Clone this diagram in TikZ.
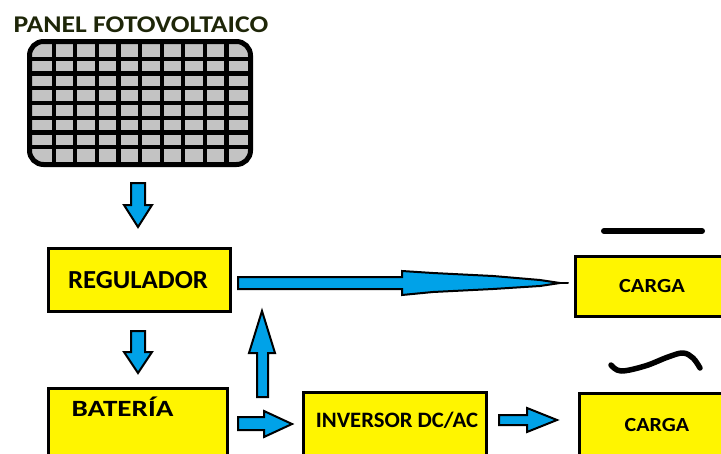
\documentclass[tikz,border=0pt]{standalone}
\usepackage{fontspec}
\setmainfont{Carlito}
\definecolor{arrowblue}{HTML}{00A2E8}
\definecolor{boxyellow}{HTML}{FFF500}
\definecolor{cellgray}{HTML}{C3C3C3}
\definecolor{titlecol}{HTML}{1E2608}
\tikzset{
  box/.style={draw=black, line width=3pt, fill=boxyellow, inner sep=0pt},
  lbl/.style={inner sep=0pt, font=\bfseries},
  barrow/.style={draw=black, line width=2pt, fill=arrowblue, line join=miter},
}
\begin{document}
\begin{tikzpicture}[x=1pt,y=-1pt]
\useasboundingbox (0,0) rectangle (721,453);
\clip (0,0) rectangle (721,453);

% title
\node[lbl, text=titlecol, font=\bfseries\fontsize{24}{28}\selectfont] (title) at (141,24.5) {\scalebox{1.155}[1]{PANEL FOTOVOLTAICO}};

% solar panel
\begin{scope}
  \path[clip, rounded corners=14pt] (29.5,41.5) rectangle (250.5,164.5);
  \fill[cellgray] (29.5,41.5) rectangle (250.5,164.5);
  \foreach \k in {1,...,9} {\draw[line width=4.2pt] ({32+21.6*\k},40) -- ({32+21.6*\k},166);}
  \foreach \k in {1,...,7} {\draw[line width=4.2pt] (28,{44+14.75*\k}) -- (252,{44+14.75*\k});}
\end{scope}
\node[draw=black, line width=5pt, rounded corners=14pt, minimum width=221pt, minimum height=123pt, inner sep=0pt] (panel) at (140,103) {};

% boxes
\node[box, minimum width=182pt, minimum height=63pt] (reg) at (139.5,280) {};
\node[lbl, font=\bfseries\fontsize{26}{30}\selectfont] (regt) at (138,280) {\scalebox{1.03}[1]{REGULADOR}};

\node[box, minimum width=179pt, minimum height=80pt] (bat) at (138,428) {};
\node[lbl, font=\bfseries\fontsize{23.3}{28}\selectfont] (batt) at (122.5,406.5) {\scalebox{1.25}[1]{BATERÍA}};

\node[box, minimum width=183pt, minimum height=80pt] (inv) at (395,432) {};
\node[lbl, font=\bfseries\fontsize{22}{26}\selectfont] (invt) at (397,420) {\scalebox{1.03}[1]{INVERSOR DC/AC}};

\node[box, minimum width=160pt, minimum height=60pt] (c1) at (655.5,286.5) {};
\node[lbl, font=\bfseries\fontsize{20}{25}\selectfont] (c1t) at (652,286) {\scalebox{1.12}[1]{CARGA}};

\node[box, minimum width=160pt, minimum height=80pt] (c2) at (659.5,433) {};
\node[lbl, font=\bfseries\fontsize{20}{25}\selectfont] (c2t) at (657,425) {\scalebox{1.1}[1]{CARGA}};

% DC symbol
\draw[line width=6pt, line cap=round] (604,231) -- (702,231);
% AC symbol
\draw[line width=5.5pt, line cap=round, line join=round] plot[smooth, tension=0.6] coordinates {(611,365) (621,371) (645,366) (668,357) (683,353) (693,358) (700,368)};

% block arrows
\draw[barrow] (131,183) -- (145,183) -- (145,205) -- (152,205) -- (138,227) -- (124,205) -- (131,205) -- cycle;
\draw[barrow] (131,331) -- (145,331) -- (145,352) -- (152,352) -- (138,373) -- (124,352) -- (131,352) -- cycle;
\draw[barrow] (257,397) -- (257,353) -- (249,353) -- (262,311) -- (275,353) -- (268,353) -- (268,397) -- cycle;
\draw[barrow] (238,417) -- (264,417) -- (264,411) -- (292,424) -- (264,437) -- (264,430) -- (238,430) -- cycle;
\draw[barrow] (499,415) -- (527,415) -- (527,408) -- (557,420) -- (527,432) -- (527,425) -- (499,425) -- cycle;
% long tapered arrow regulator -> carga
\draw[line width=2pt, line cap=round] (537,283) -- (568,283);
\draw[barrow] (238,277) -- (402,277) -- (402,271) -- (433,273) -- (493,276) -- (540,280) -- (560,283) -- (540,286) -- (493,289) -- (433,292) -- (402,295) -- (402,289) -- (238,289) -- cycle;
\end{tikzpicture}
\end{document}
